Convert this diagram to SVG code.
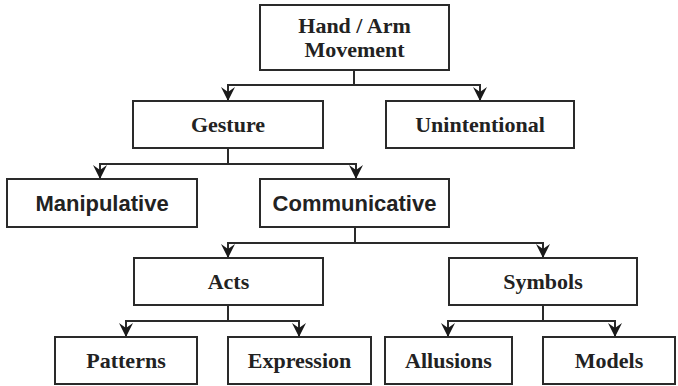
<svg xmlns="http://www.w3.org/2000/svg" width="678" height="386" viewBox="0 0 678 386">
<style>
.box{fill:#fff;stroke:#2a2a2a;stroke-width:2}
.serif{font-family:"Liberation Serif","Times New Roman",serif;font-weight:bold;font-size:22px;fill:#222;text-anchor:middle}
.sans{font-family:"Liberation Sans",Arial,sans-serif;font-weight:bold;font-size:22px;fill:#222;text-anchor:middle}
.conn{fill:none;stroke:#2a2a2a;stroke-width:2}
</style>
<defs>
<marker id="arr" markerWidth="14" markerHeight="15" refX="7" refY="14" orient="0" markerUnits="userSpaceOnUse" viewBox="0 0 14 15">
<path d="M0,0 L7,5 L14,0 L7,14 Z" fill="#1a1a1a"/>
</marker>
</defs>
<rect width="678" height="386" fill="#fff"/>
<g id="connectors">
<path class="conn" d="M354,70 V85 H228 V101" marker-end="url(#arr)"/>
<path class="conn" d="M354,85 H480 V101" marker-end="url(#arr)"/>
<path class="conn" d="M228,148 V164 H100 V179" marker-end="url(#arr)"/>
<path class="conn" d="M228,164 H356 V179" marker-end="url(#arr)"/>
<path class="conn" d="M355,227 V243 H228 V258" marker-end="url(#arr)"/>
<path class="conn" d="M355,243 H543 V258" marker-end="url(#arr)"/>
<path class="conn" d="M228,305 V321 H126 V337" marker-end="url(#arr)"/>
<path class="conn" d="M228,321 H299 V337" marker-end="url(#arr)"/>
<path class="conn" d="M543,305 V321 H448 V337" marker-end="url(#arr)"/>
<path class="conn" d="M543,321 H615 V337" marker-end="url(#arr)"/>
</g>
<g id="hand-arm">
<rect class="box" x="260" y="5" width="189" height="65"/>
<text class="serif" x="354.5" y="33">Hand / Arm</text>
<text class="serif" x="354.5" y="57">Movement</text>
</g>
<g id="gesture">
<rect class="box" x="133" y="101" width="190" height="47"/>
<text class="serif" x="228" y="132">Gesture</text>
</g>
<g id="unintentional">
<rect class="box" x="386" y="101" width="188" height="47"/>
<text class="serif" x="480" y="132">Unintentional</text>
</g>
<g id="manipulative">
<rect class="box" x="7" y="179" width="190" height="48"/>
<text class="sans" x="102" y="211">Manipulative</text>
</g>
<g id="communicative">
<rect class="box" x="260" y="179" width="189" height="48"/>
<text class="sans" x="354.5" y="211">Communicative</text>
</g>
<g id="acts">
<rect class="box" x="134" y="258" width="189" height="47"/>
<text class="serif" x="228.5" y="289">Acts</text>
</g>
<g id="symbols">
<rect class="box" x="449" y="258" width="188" height="47"/>
<text class="serif" x="543" y="289">Symbols</text>
</g>
<g id="patterns">
<rect class="box" x="55" y="337" width="142" height="47"/>
<text class="serif" x="126" y="368">Patterns</text>
</g>
<g id="expression">
<rect class="box" x="228" y="337" width="143" height="47"/>
<text class="serif" x="299.5" y="368">Expression</text>
</g>
<g id="allusions">
<rect class="box" x="385" y="337" width="127" height="47"/>
<text class="serif" x="448.5" y="368">Allusions</text>
</g>
<g id="models">
<rect class="box" x="543" y="337" width="132" height="47"/>
<text class="serif" x="609" y="368">Models</text>
</g>
</svg>
